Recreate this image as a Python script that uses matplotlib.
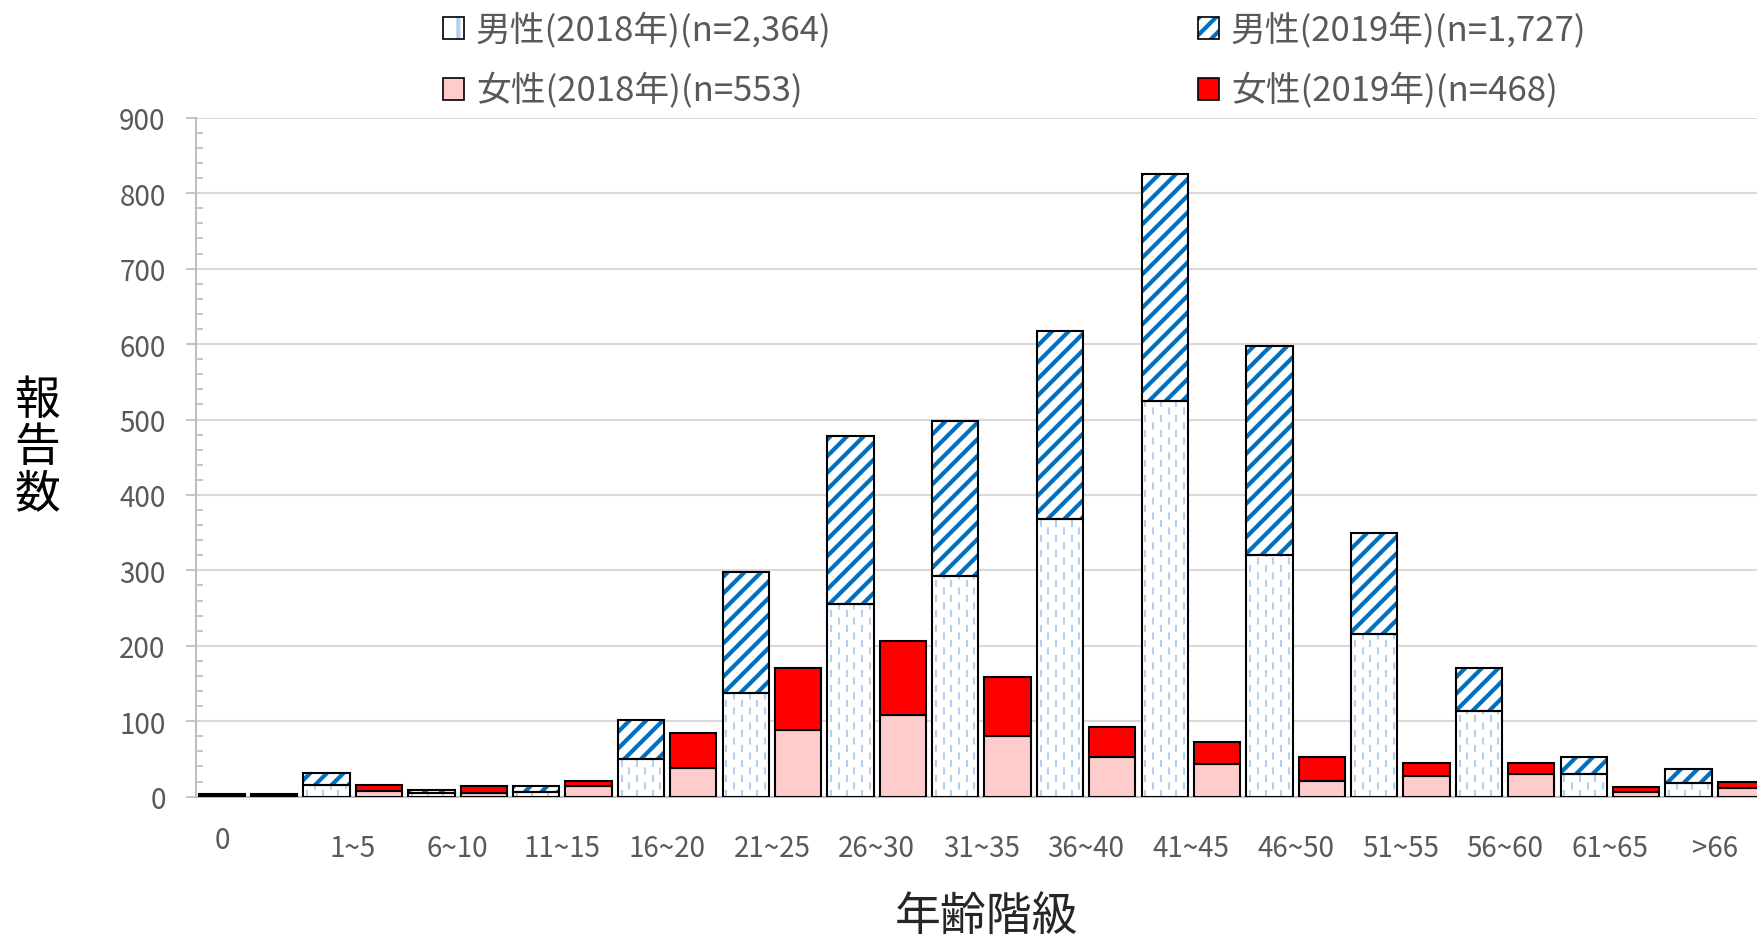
import numpy as np
import matplotlib.pyplot as plt
from matplotlib.patches import Patch
from matplotlib.ticker import MultipleLocator
from matplotlib.transforms import ScaledTranslation

plt.rcParams['font.family'] = ['Noto Sans CJK JP', 'DejaVu Sans']
plt.rcParams['hatch.linewidth'] = 3.0

# age groups and report counts
categories = ['0', '1~5', '6~10', '11~15', '16~20', '21~25', '26~30', '31~35',
              '36~40', '41~45', '46~50', '51~55', '56~60', '61~65', '>66']
male_2018 = [2, 16, 5, 6, 50, 138, 256, 292, 368, 524, 321, 215, 113, 30, 18]
male_2019 = [1, 15, 4, 8, 51, 160, 222, 206, 250, 302, 276, 134, 58, 23, 19]
female_2018 = [1, 8, 5, 14, 38, 89, 108, 80, 52, 43, 21, 28, 30, 6, 11]
female_2019 = [2, 8, 9, 7, 46, 81, 99, 79, 40, 30, 32, 17, 15, 7, 9]

labels_m = ['男性(2018年)(n=2,364)', '女性(2018年)(n=553)']
labels_f = ['男性(2019年)(n=1,727)', '女性(2019年)(n=468)']

GRAY = '#595959'
LINE = '#bfbfbf'
DASH = '#b4d0ec'
BLUE = '#0070c0'
PINK = '#ffcccc'
RED = '#ff0000'

fig = plt.figure(figsize=(17.57, 9.37), dpi=100)
ax = fig.add_axes([0.1114, 0.1487, 0.8943, 0.7245])

n = len(categories)
x_m = np.arange(n) * 2
x_f = x_m + 1
w = 0.885
elw = 1.5

m18 = np.array(male_2018)
m19 = np.array(male_2019)
f18 = np.array(female_2018)
f19 = np.array(female_2019)

# male 2018: white with dashed light blue verticals
ax.bar(x_m, m18, w, color='white', lw=0, zorder=2)
ncol = 6
for k in range(ncol):
    xs = x_m - w / 2 + w * (k + 0.5) / ncol
    off = 0 if k % 2 == 0 else 3.6
    ax.vlines(xs, 0, m18, colors=DASH, lw=1.5,
              linestyles=[(off, (3.4, 3.8))], zorder=2.5)
ax.bar(x_m, m18, w, fill=False, edgecolor='black', lw=elw, zorder=4)

# male 2019: blue diagonal stripes
ax.bar(x_m, m19, w, bottom=m18, color='white', edgecolor=BLUE,
       hatch='//', lw=0, zorder=2)
ax.bar(x_m, m19, w, bottom=m18, fill=False, edgecolor='black', lw=elw, zorder=4)

# female
ax.bar(x_f, f18, w, color=PINK, edgecolor='black', lw=elw, zorder=3)
ax.bar(x_f, f19, w, bottom=f18, color=RED, edgecolor='black', lw=elw, zorder=3)

ax.set_xlim(-0.5, 2 * n - 0.5)
ax.set_ylim(0, 900)

ticks = x_m + 0.5
ticks[0] = x_m[0]
ax.set_xticks(ticks)
ax.set_xticklabels(categories)
ax.tick_params(axis='x', length=0, pad=26, labelsize=20, labelcolor=GRAY)
lab0 = ax.get_xticklabels()[0]
lab0.set_transform(lab0.get_transform() + ScaledTranslation(0, 8 / 100, fig.dpi_scale_trans))

ax.set_yticks(np.arange(0, 901, 100))
ax.yaxis.set_minor_locator(MultipleLocator(20))
ax.tick_params(axis='y', which='major', direction='out', length=7.2, width=1.3,
               color=LINE, pad=14.4, labelsize=20, labelcolor=GRAY)
ax.tick_params(axis='y', which='minor', direction='in', length=5, width=1.3, color=LINE)

ax.yaxis.grid(True, color='#d9d9d9', lw=1.5)
ax.set_axisbelow(True)
for s in ['top', 'right']:
    ax.spines[s].set_visible(False)
for s in ['left', 'bottom']:
    ax.spines[s].set_color(LINE)
    ax.spines[s].set_linewidth(1.5)

ax.set_xlabel('年齢階級', fontsize=33, color='#262626', va='center')
ax.xaxis.set_label_coords(0.503, -0.176)
ax.set_ylabel('報\n告\n数', fontsize=33, color='black', rotation=0,
              linespacing=0.95, va='center', ha='center')
ax.yaxis.set_label_coords(-0.101, 0.516)

# legend
h_m18 = (Patch(facecolor='white', edgecolor=DASH, hatch='|', lw=0),
         Patch(facecolor='none', edgecolor='black', lw=1.2))
h_f18 = Patch(facecolor=PINK, edgecolor='black', lw=1.2)
h_m19 = (Patch(facecolor='white', edgecolor=BLUE, hatch='//', lw=0),
         Patch(facecolor='none', edgecolor='black', lw=1.2))
h_f19 = Patch(facecolor=RED, edgecolor='black', lw=1.2)

leg_kw = dict(loc='upper left', frameon=False, fontsize=25, labelcolor=GRAY,
              handlelength=0.6, handleheight=0.6, handletextpad=0.35,
              borderpad=0, borderaxespad=0, labelspacing=0.71)
fig.legend([h_m18, h_f18], labels_m, bbox_to_anchor=(443 / 1757, 0.986), **leg_kw)
fig.legend([h_m19, h_f19], labels_f, bbox_to_anchor=(1198 / 1757, 0.986), **leg_kw)

fig.savefig('out.png', dpi=100)
